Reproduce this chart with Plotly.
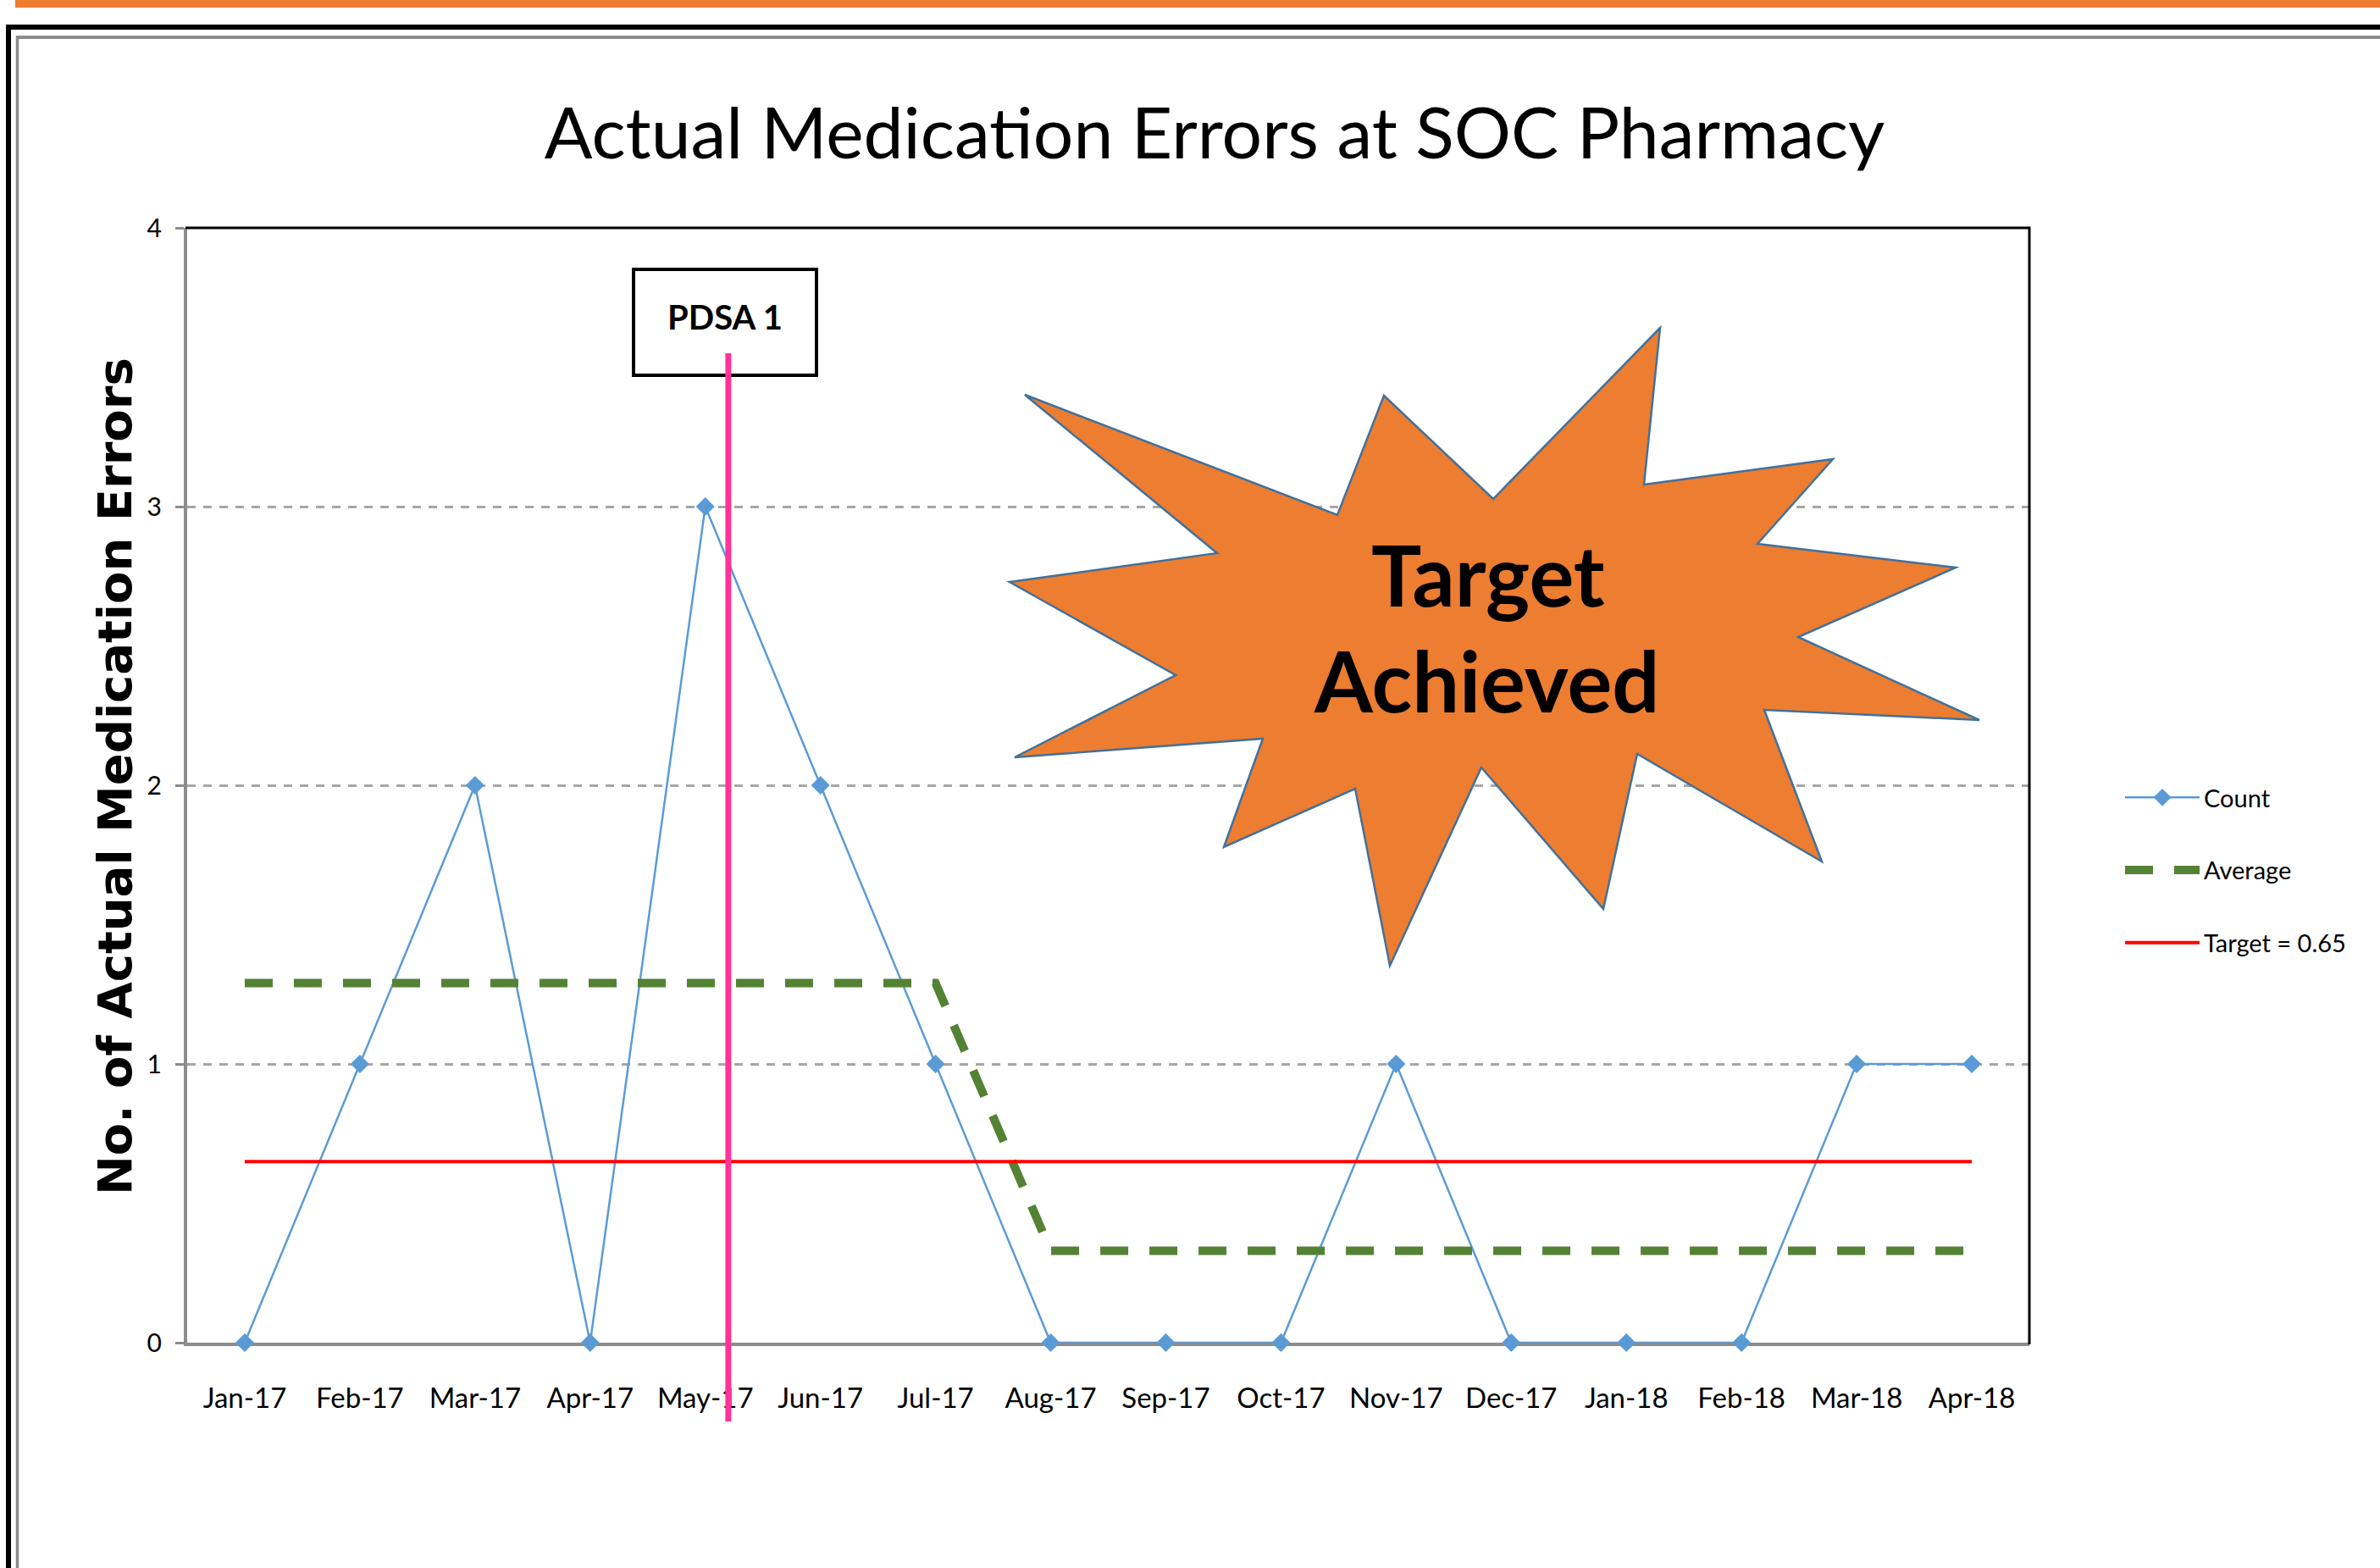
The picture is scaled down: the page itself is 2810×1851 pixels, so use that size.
import plotly.graph_objects as go

# ---------------- data ----------------
months = ["Jan-17", "Feb-17", "Mar-17", "Apr-17", "May-17", "Jun-17", "Jul-17", "Aug-17",
          "Sep-17", "Oct-17", "Nov-17", "Dec-17", "Jan-18", "Feb-18", "Mar-18", "Apr-18"]
count = [0, 1, 2, 0, 3, 2, 1, 0, 0, 0, 1, 0, 0, 0, 1, 1]
average = [1.29, 1.29, 1.29, 1.29, 1.29, 1.29, 1.29, 0.33,
           0.33, 0.33, 0.33, 0.33, 0.33, 0.33, 0.33, 0.33]
target = [0.65, 0.65, 0.65, 0.65, 0.65, 0.65, 0.65, 0.65,
          0.65, 0.65, 0.65, 0.65, 0.65, 0.65, 0.65, 0.65]
pdsa_label = "PDSA 1"
pdsa_pos = 4.2  # category position of the PDSA 1 marker (just after May-17)

# ---------------- geometry helpers ----------------
W, H = 2810, 1851


def px(x):
    return x / W


def py(y):
    return 1 - y / H


SANS = "Lato, Carlito, Roboto, sans-serif"

fig = go.Figure()
fig.add_trace(go.Scatter(
    x=months, y=count, name="Count", mode="lines+markers",
    line=dict(color="#5B9BD5", width=2.5),
    marker=dict(symbol="diamond", size=17, color="#5B9BD5"),
    cliponaxis=False, legendgroup="a"))
fig.add_trace(go.Scatter(
    x=months, y=average, name="Average", mode="lines",
    line=dict(color="#548235", width=10, dash="33px,25px"),
    legendgroup="b"))
fig.add_trace(go.Scatter(
    x=months, y=target, name="Target = 0.65", mode="lines",
    line=dict(color="#FF0000", width=4),
    legendgroup="c"))

# starburst outline (pixel coordinates of the decorative shape)
burst = [(1210, 466), (1579, 608), (1634, 467), (1763, 589), (1960, 387), (1941, 572),
         (2164, 542), (2075, 642), (2309, 670), (2123, 752), (2337, 850), (2083, 838),
         (2151, 1017), (1933, 890), (1893, 1073), (1749, 906), (1641, 1140), (1600, 931),
         (1445, 1000), (1491, 872), (1198, 894), (1388, 797), (1192, 687), (1437, 653)]
path = "M " + " L ".join(f"{px(x):.5f},{py(y):.5f}" for x, y in burst) + " Z"

shapes = [
    # page decoration
    dict(type="rect", xref="paper", yref="paper", x0=px(18), x1=px(2810), y0=py(0), y1=py(9),
         fillcolor="#ED7D31", line=dict(width=0)),
    dict(type="line", xref="paper", yref="paper", x0=px(7), x1=px(2810), y0=py(32), y1=py(32),
         line=dict(color="black", width=6)),
    dict(type="line", xref="paper", yref="paper", x0=px(10), x1=px(10), y0=py(29), y1=py(1851),
         line=dict(color="black", width=6)),
    dict(type="line", xref="paper", yref="paper", x0=px(19), x1=px(2810), y0=py(44), y1=py(44),
         line=dict(color="#8C8C8C", width=4)),
    dict(type="line", xref="paper", yref="paper", x0=px(20.5), x1=px(20.5), y0=py(42), y1=py(1851),
         line=dict(color="#8C8C8C", width=3.5)),
    # plot border top / right
    dict(type="line", xref="paper", yref="paper", x0=px(219), x1=px(2396), y0=py(269), y1=py(269),
         line=dict(color="black", width=3)),
    dict(type="line", xref="paper", yref="paper", x0=px(2396), x1=px(2396), y0=py(267.5), y1=py(1587),
         line=dict(color="black", width=3)),
    # starburst
    dict(type="path", xref="paper", yref="paper", path=path, fillcolor="#ED7D31",
         line=dict(color="#41719C", width=2.5), layer="above"),
    # PDSA box
    dict(type="rect", xref="paper", yref="paper", x0=px(748), x1=px(964), y0=py(318), y1=py(443),
         fillcolor="white", line=dict(color="black", width=4), layer="above"),
    # PDSA marker line
    dict(type="line", xref="x", yref="paper", x0=pdsa_pos, x1=pdsa_pos, y0=py(417), y1=py(1678),
         line=dict(color="#FF3399", width=7), layer="above"),
]

annotations = [
    dict(text="No. of Actual Medication Errors", xref="paper", yref="paper",
         x=px(135), y=py(917), xanchor="center", yanchor="middle", textangle=-90, showarrow=False,
         font=dict(family="DejaVu Sans", size=56, color="black", weight="bold")),
    dict(text=pdsa_label, xref="paper", yref="paper", x=px(856), y=py(374),
         xanchor="center", yanchor="middle", showarrow=False,
         font=dict(family=SANS, size=40, color="black", weight="bold")),
    dict(text="Target", xref="paper", yref="paper", x=px(1757), y=py(678),
         xanchor="center", yanchor="middle", showarrow=False,
         font=dict(family=SANS, size=99, color="black", weight="bold")),
    dict(text="Achieved", xref="paper", yref="paper", x=px(1755), y=py(803),
         xanchor="center", yanchor="middle", showarrow=False,
         font=dict(family=SANS, size=99, color="black", weight="bold")),
]

fig.update_layout(
    width=W, height=H, autosize=False,
    margin=dict(l=0, r=0, t=0, b=0, pad=0, autoexpand=False),
    paper_bgcolor="white", plot_bgcolor="white",
    title=dict(text="Actual Medication Errors at SOC Pharmacy", x=px(1434), y=py(158),
               xanchor="center", yanchor="middle", xref="paper", yref="paper",
               automargin=False,
               font=dict(family=SANS, size=84, color="black")),
    xaxis=dict(type="category", categoryorder="array", categoryarray=months,
               range=[-0.5, 15.5], domain=[px(221), px(2396)], automargin=False,
               showline=True, linecolor="#8C8C8C", linewidth=4, showgrid=False,
               ticks="", ticklabelstandoff=33, layer="below traces",
               tickfont=dict(family=SANS, size=33, color="black"), fixedrange=True),
    yaxis=dict(range=[0, 4], tick0=0, dtick=1, domain=[py(1585), py(269)], automargin=False,
               showgrid=True, gridcolor="#A6A6A6", gridwidth=3, griddash="10px,9px",
               zeroline=False, showline=True, linecolor="#8C8C8C", linewidth=4,
               ticks="outside", ticklen=10, tickwidth=3, tickcolor="#8C8C8C",
               ticklabelstandoff=10,
               tickfont=dict(family=SANS, size=30, color="black"), fixedrange=True),
    legend=dict(x=px(2504), y=py(916), xanchor="left", yanchor="top",
                font=dict(family=SANS, size=29, color="black"),
                itemwidth=88, tracegroupgap=45, bgcolor="rgba(0,0,0,0)"),
    shapes=shapes,
    annotations=annotations,
    showlegend=True,
)

fig.write_html("out.html", config={"displayModeBar": False},
               post_script="document.body.style.margin='0';")
